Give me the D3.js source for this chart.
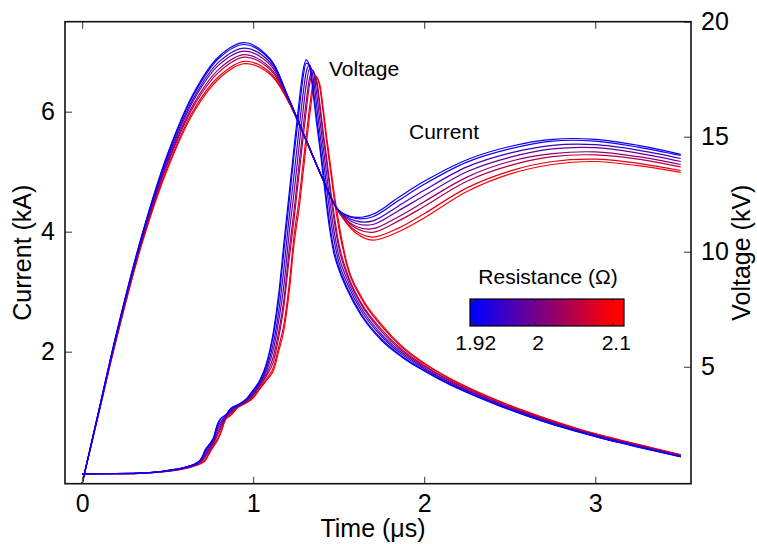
<!DOCTYPE html>
<html><head><meta charset="utf-8">
<script src="https://cdn.jsdelivr.net/npm/d3@7"></script>
<style>
body{margin:0;background:#fff}
text{font-family:"Liberation Sans",Arial,Helvetica,sans-serif;fill:#000}
</style>
</head><body>
<svg id="chart" width="757" height="544"></svg>
<script>
// ---------- data ----------
const resistance = [1.92, 1.935, 1.965, 1.99, 2.02, 2.045, 2.08, 2.1];

const timeCurrent = [0, 0.1, 0.2, 0.35, 0.5, 0.65, 0.8, 0.95, 1.1, 1.2, 1.3, 1.4, 1.5, 1.6, 1.7, 1.85, 2.0, 2.25, 2.5, 2.75, 3.0, 3.25, 3.5];
const current1920 = [-0.2, 1.05, 2.3, 3.95, 5.3, 6.3, 6.92, 7.15, 6.88, 6.28, 5.6, 4.93, 4.36, 4.24, 4.29, 4.57, 4.84, 5.2, 5.42, 5.54, 5.54, 5.44, 5.29];
const current1935 = [-0.2, 1.05, 2.29, 3.94, 5.28, 6.27, 6.89, 7.12, 6.86, 6.27, 5.6, 4.93, 4.36, 4.22, 4.25, 4.52, 4.79, 5.16, 5.38, 5.51, 5.51, 5.41, 5.27];
const current1965 = [-0.2, 1.04, 2.28, 3.91, 5.24, 6.22, 6.83, 7.06, 6.82, 6.26, 5.6, 4.93, 4.35, 4.18, 4.18, 4.43, 4.69, 5.08, 5.31, 5.44, 5.45, 5.36, 5.22];
const current1990 = [-0.2, 1.03, 2.26, 3.89, 5.2, 6.18, 6.78, 7.01, 6.78, 6.25, 5.59, 4.93, 4.35, 4.14, 4.12, 4.35, 4.6, 5.0, 5.24, 5.38, 5.4, 5.31, 5.17];
const current2020 = [-0.2, 1.02, 2.24, 3.87, 5.16, 6.12, 6.71, 6.95, 6.73, 6.24, 5.59, 4.92, 4.34, 4.09, 4.05, 4.25, 4.5, 4.91, 5.17, 5.3, 5.33, 5.25, 5.12];
const current2045 = [-0.2, 1.02, 2.23, 3.85, 5.13, 6.08, 6.66, 6.91, 6.7, 6.22, 5.59, 4.92, 4.34, 4.06, 3.99, 4.18, 4.42, 4.84, 5.1, 5.25, 5.28, 5.21, 5.08];
const current2080 = [-0.2, 1.01, 2.21, 3.82, 5.08, 6.02, 6.59, 6.84, 6.65, 6.21, 5.58, 4.92, 4.33, 4.01, 3.91, 4.06, 4.3, 4.73, 5.01, 5.17, 5.21, 5.14, 5.02];
const current2100 = [-0.2, 1.0, 2.2, 3.8, 5.05, 5.98, 6.55, 6.8, 6.62, 6.2, 5.58, 4.92, 4.33, 3.98, 3.86, 4.0, 4.23, 4.67, 4.96, 5.12, 5.17, 5.1, 4.99];

const timeVoltage = [0, 0.3, 0.45, 0.55, 0.62, 0.67, 0.7, 0.72, 0.745, 0.77, 0.79, 0.81, 0.84, 0.87, 0.91, 0.96, 1.0, 1.04, 1.08, 1.12, 1.15,
  1.18, 1.21, 1.24, 1.27, 1.29, 1.31, 1.33, 1.35, 1.37, 1.39, 1.41, 1.43, 1.45, 1.47, 1.5,
  1.55, 1.63, 1.75, 1.87, 2.0, 2.15, 2.3, 2.45, 2.6, 2.75, 2.9, 3.05, 3.2, 3.35, 3.5];
const voltage1920 = [0.35, 0.37, 0.44, 0.55, 0.67, 0.83, 1.05, 1.4, 1.65, 1.95, 2.5, 2.75, 2.92, 3.2, 3.35, 3.6, 3.99, 4.43, 5.2, 6.6, 8.2,
  10.4, 12.5, 14.6, 16.6, 17.8, 18.34, 18.05, 16.95, 15.65, 14.5, 13.25, 11.95, 10.85, 10.0, 9.25,
  8.35, 7.25, 6.15, 5.42, 4.82, 4.22, 3.72, 3.27, 2.87, 2.5, 2.17, 1.87, 1.6, 1.34, 1.08];
const voltage1935 = [0.35, 0.37, 0.44, 0.55, 0.67, 0.82, 1.03, 1.36, 1.62, 1.92, 2.44, 2.7, 2.9, 3.17, 3.34, 3.59, 3.96, 4.4, 5.13, 6.43, 7.95,
  10.03, 12.15, 14.25, 16.21, 17.46, 18.2, 18.1, 17.18, 15.91, 14.72, 13.52, 12.23, 11.1, 10.2, 9.35,
  8.44, 7.32, 6.21, 5.46, 4.85, 4.24, 3.74, 3.29, 2.88, 2.51, 2.18, 1.88, 1.61, 1.35, 1.09];
const voltage1965 = [0.35, 0.37, 0.44, 0.54, 0.66, 0.8, 0.99, 1.28, 1.55, 1.85, 2.32, 2.59, 2.87, 3.12, 3.32, 3.56, 3.9, 4.33, 4.98, 6.08, 7.43,
  9.28, 11.45, 13.4, 15.44, 16.74, 17.8, 18.12, 17.6, 16.45, 15.18, 14.04, 12.79, 11.6, 10.63, 9.58,
  8.62, 7.46, 6.33, 5.54, 4.91, 4.29, 3.78, 3.32, 2.92, 2.54, 2.21, 1.9, 1.63, 1.37, 1.11];
const voltage1990 = [0.35, 0.37, 0.43, 0.53, 0.65, 0.79, 0.96, 1.21, 1.49, 1.79, 2.22, 2.5, 2.84, 3.08, 3.3, 3.53, 3.85, 4.28, 4.85, 5.8, 7.02,
  8.55, 10.75, 12.63, 14.68, 16.0, 17.23, 17.96, 17.87, 16.96, 15.71, 14.53, 13.35, 12.1, 11.05, 9.85,
  8.8, 7.59, 6.42, 5.61, 4.96, 4.33, 3.81, 3.35, 2.94, 2.56, 2.22, 1.92, 1.65, 1.38, 1.12];
const voltage2020 = [0.35, 0.36, 0.43, 0.53, 0.64, 0.77, 0.92, 1.13, 1.43, 1.73, 2.1, 2.39, 2.81, 3.03, 3.28, 3.5, 3.79, 4.21, 4.71, 5.49, 6.56,
  7.93, 10.03, 11.86, 13.91, 15.24, 16.52, 17.57, 17.88, 17.37, 16.23, 14.98, 13.86, 12.65, 11.55, 10.2,
  8.98, 7.73, 6.54, 5.69, 5.02, 4.38, 3.85, 3.39, 2.97, 2.59, 2.25, 1.94, 1.67, 1.4, 1.14];
const voltage2045 = [0.35, 0.36, 0.43, 0.52, 0.63, 0.75, 0.88, 1.07, 1.37, 1.67, 2.0, 2.3, 2.78, 2.99, 3.27, 3.48, 3.75, 4.16, 4.63, 5.26, 6.3,
  7.65, 9.65, 11.45, 13.48, 14.81, 16.1, 17.27, 17.79, 17.51, 16.44, 15.18, 14.07, 12.85, 11.8, 10.4,
  9.07, 7.8, 6.63, 5.75, 5.06, 4.41, 3.89, 3.41, 2.99, 2.61, 2.27, 1.96, 1.68, 1.42, 1.15];
const voltage2080 = [0.35, 0.36, 0.42, 0.51, 0.62, 0.73, 0.84, 0.97, 1.29, 1.59, 1.86, 2.17, 2.74, 2.92, 3.24, 3.45, 3.68, 4.08, 4.5, 5.0, 5.89,
  6.85, 8.55, 10.75, 12.36, 13.71, 15.02, 16.29, 17.32, 17.62, 17.12, 16.0, 14.77, 13.66, 12.5, 11.05,
  9.35, 8.0, 6.77, 5.85, 5.13, 4.47, 3.93, 3.46, 3.03, 2.64, 2.29, 1.99, 1.71, 1.44, 1.17];
const voltage2100 = [0.35, 0.36, 0.42, 0.51, 0.61, 0.72, 0.81, 0.92, 1.25, 1.55, 1.78, 2.1, 2.72, 2.89, 3.23, 3.43, 3.64, 4.04, 4.43, 4.86, 5.69,
  6.6, 8.2, 10.4, 11.96, 13.3, 14.61, 15.89, 17.03, 17.55, 17.27, 16.22, 14.98, 13.88, 12.75, 11.3,
  9.45, 8.08, 6.85, 5.9, 5.17, 4.5, 3.96, 3.48, 3.05, 2.66, 2.31, 2.0, 1.72, 1.45, 1.18];

const currentSeries = [current1920, current1935, current1965, current1990, current2020, current2045, current2080, current2100];
const voltageSeries = [voltage1920, voltage1935, voltage1965, voltage1990, voltage2020, voltage2045, voltage2080, voltage2100];

const timeTicks = [0, 1, 2, 3];
const currentTicks = [2, 4, 6];
const voltageTicks = [5, 10, 15, 20];
const colorbarTicks = [1.92, 2, 2.1];
const colorbarTickLabels = ["1.92", "2", "2.1"];

// ---------- layout ----------
const svg = d3.select("#chart");
const L = 65, R = 691, T = 21.7, B = 483.7;

const x = d3.scaleLinear().domain([-0.1, 3.56]).range([L, R]);
const yC = d3.scaleLinear().domain([-0.2, 7.5]).range([B, T]);
const yV = d3.scaleLinear().domain([-0.08, 20]).range([B, T]);
const color = d3.scaleLinear().domain([1.92, 2.1]).range(["#0000ff", "#ff0000"])
  .interpolate(d3.interpolateRgb).clamp(true);

svg.append("defs").append("clipPath").attr("id", "clip")
  .append("rect").attr("x", L).attr("y", T).attr("width", R - L).attr("height", B - T);

const plot = svg.append("g").attr("clip-path", "url(#clip)");

const lineC = d3.line().x(d => x(d[0])).y(d => yC(d[1])).curve(d3.curveCatmullRom.alpha(0.5));
const lineV = d3.line().x(d => x(d[0])).y(d => yV(d[1])).curve(d3.curveMonotoneX);

// draw from red to blue so blue ends on top
for (let k = resistance.length - 1; k >= 0; k--) {
  const c = color(resistance[k]);
  plot.append("path")
    .attr("d", lineV(timeVoltage.map((t, i) => [t, voltageSeries[k][i]])))
    .attr("fill", "none").attr("stroke", c).attr("stroke-width", 1.2);
  plot.append("path")
    .attr("d", lineC(timeCurrent.map((t, i) => [t, currentSeries[k][i]])))
    .attr("fill", "none").attr("stroke", c).attr("stroke-width", 1.2);
}

// ---------- axes ----------
const fs = 25;
function styleAxis(g) {
  g.select(".domain").remove();
  g.selectAll(".tick line").attr("stroke", "#555").attr("stroke-width", 1.2);
  g.selectAll(".tick text").attr("font-size", fs).attr("font-family", '"Liberation Sans",Arial,sans-serif').attr("fill", "#000");
}
svg.append("g").attr("transform", `translate(0,${B})`)
  .call(d3.axisBottom(x).tickValues(timeTicks).tickSize(-7).tickPadding(11).tickFormat(d3.format("d")))
  .call(styleAxis);
svg.append("g").attr("transform", `translate(0,${T})`)
  .call(d3.axisTop(x).tickValues(timeTicks).tickSize(-7).tickFormat(""))
  .call(styleAxis);
svg.append("g").attr("transform", `translate(${L},0)`)
  .call(d3.axisLeft(yC).tickValues(currentTicks).tickSize(-7).tickPadding(10).tickFormat(d3.format("d")))
  .call(styleAxis);
svg.append("g").attr("transform", `translate(${R},0)`)
  .call(d3.axisRight(yV).tickValues(voltageTicks).tickSize(-7).tickPadding(10).tickFormat(d3.format("d")))
  .call(styleAxis);

svg.append("rect").attr("x", L).attr("y", T).attr("width", R - L).attr("height", B - T)
  .attr("fill", "none").attr("stroke", "#111").attr("stroke-width", 1.6);

// axis titles
svg.append("text").attr("x", (L + R) / 2 - 5).attr("y", 537).attr("text-anchor", "middle")
  .attr("font-size", fs).text("Time (μs)");
svg.append("text").attr("transform", `translate(31,${(T + B) / 2}) rotate(-90)`).attr("text-anchor", "middle")
  .attr("font-size", fs).text("Current (kA)");
svg.append("text").attr("transform", `translate(750,${(T + B) / 2}) rotate(-90)`).attr("text-anchor", "middle")
  .attr("font-size", fs).text("Voltage (kV)");

// annotations
svg.append("text").attr("x", 329).attr("y", 76).attr("font-size", 21).text("Voltage");
svg.append("text").attr("x", 409).attr("y", 139).attr("font-size", 21).text("Current");

// ---------- colorbar ----------
const cbX0 = 470, cbX1 = 624, cbY0 = 299, cbY1 = 326;
const cbScale = d3.scaleLinear().domain([1.92, 2.1]).range([472.7, 613.3]);
const grad = svg.select("defs").append("linearGradient").attr("id", "cbgrad")
  .attr("gradientUnits", "userSpaceOnUse")
  .attr("x1", cbScale(1.92)).attr("x2", cbScale(2.1)).attr("y1", 0).attr("y2", 0);
d3.range(0, 1.0001, 0.1).forEach(p => {
  const r = 1.92 + p * 0.18;
  grad.append("stop").attr("offset", p).attr("stop-color", color(r));
});
svg.append("rect").attr("x", cbX0).attr("y", cbY0).attr("width", cbX1 - cbX0).attr("height", cbY1 - cbY0)
  .attr("fill", "url(#cbgrad)").attr("stroke", "#000").attr("stroke-width", 1.2);
colorbarTicks.forEach((v, i) => {
  const xx = cbScale(v);
  svg.append("line").attr("x1", xx).attr("x2", xx).attr("y1", cbY0).attr("y2", cbY0 + 4).attr("stroke", "#222").attr("stroke-width", 1.2);
  svg.append("line").attr("x1", xx).attr("x2", xx).attr("y1", cbY1).attr("y2", cbY1 - 4).attr("stroke", "#222").attr("stroke-width", 1.2);
  svg.append("text").attr("x", xx + 3).attr("y", 350).attr("text-anchor", "middle").attr("font-size", 21).text(colorbarTickLabels[i]);
});
svg.append("text").attr("x", 548).attr("y", 284).attr("text-anchor", "middle").attr("font-size", 21).text("Resistance (Ω)");
</script>
</body></html>
